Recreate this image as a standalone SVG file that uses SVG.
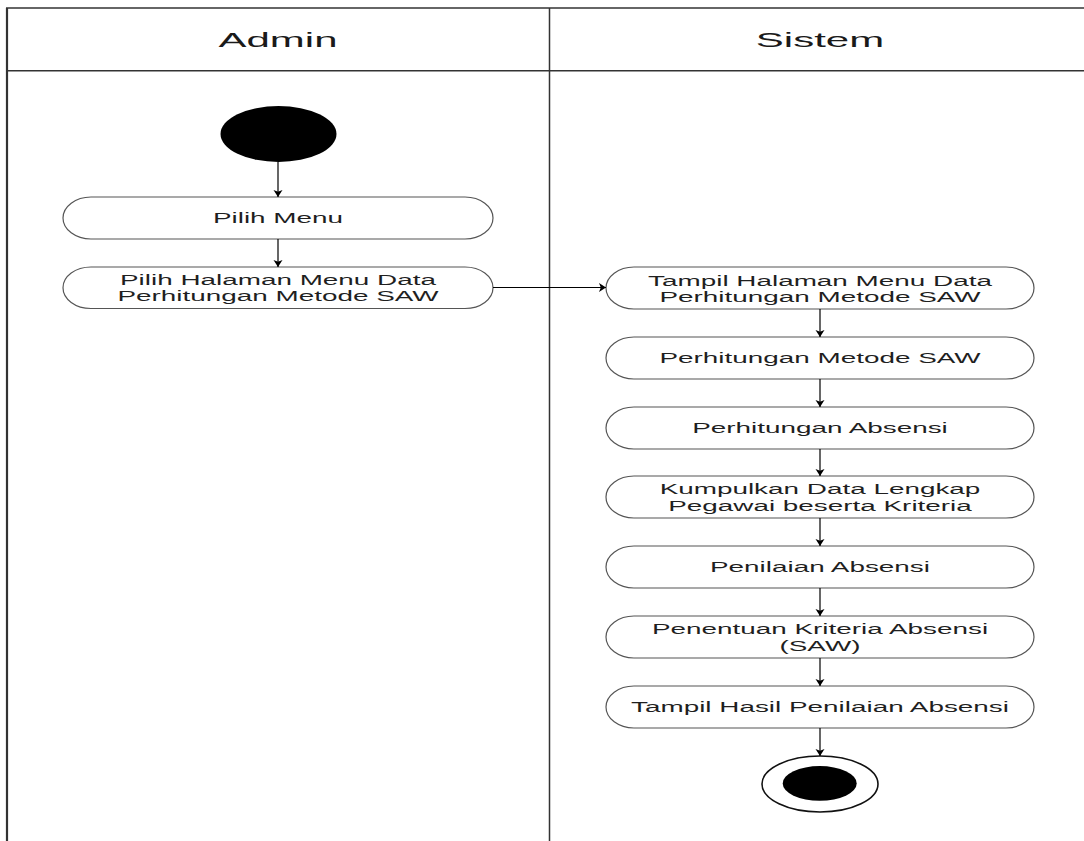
<svg xmlns="http://www.w3.org/2000/svg" width="1084" height="841" viewBox="0 0 1084 841">
  <style>
    .lane { stroke: #333; fill: none; }
    .node { fill: #fff; stroke: #555; stroke-width: 1.2; }
    .t { font-family: "Liberation Sans", Arial, sans-serif; font-size: 15px; fill: #1f1f1f; text-anchor: middle; }
    .h { font-family: "Liberation Sans", Arial, sans-serif; font-size: 21px; fill: #1a1a1a; text-anchor: middle; }
    .edge { stroke: #000; stroke-width: 1.2; fill: none; marker-end: url(#arr); }
  </style>
  <defs>
    <marker id="arr" markerUnits="userSpaceOnUse" markerWidth="10" markerHeight="10" refX="7" refY="4.5" orient="auto">
      <path d="M0,0 L7,4.5 L0,9 L1.8,4.5 z" fill="#000"/>
    </marker>
  </defs>
  <rect width="1084" height="841" fill="#fff"/>

  <g id="lanes">
    <line class="lane" x1="6" y1="8" x2="1084" y2="8" stroke-width="1.5"/>
    <line class="lane" x1="7" y1="8" x2="7" y2="841" stroke-width="2.2" stroke="#111"/>
    <line class="lane" x1="549.5" y1="8" x2="549.5" y2="841" stroke-width="1.5" stroke="#444"/>
    <line class="lane" x1="7" y1="70.7" x2="1084" y2="70.7" stroke-width="1.6" stroke="#999"/>
    <g transform="scale(2 1)">
      <text class="h" x="139" y="47">Admin</text>
      <text class="h" x="410" y="47">Sistem</text>
    </g>
  </g>

  <g id="start">
    <ellipse cx="278.5" cy="134" rx="58" ry="28" fill="#000"/>
  </g>

  <g id="pilih-menu">
    <rect class="node" x="63" y="197" width="430" height="42" rx="28" ry="21"/>
    <g transform="scale(1.86 1)"><text class="t" x="149.46" y="223">Pilih Menu</text></g>
  </g>

  <g id="pilih-halaman">
    <rect class="node" x="63" y="267" width="430" height="41.5" rx="28" ry="20.75"/>
    <g transform="scale(1.86 1)">
      <text class="t" x="149.46" y="285">Pilih Halaman Menu Data</text>
      <text class="t" x="149.46" y="301.5">Perhitungan Metode SAW</text>
    </g>
  </g>

  <g id="tampil-halaman">
    <rect class="node" x="606" y="267" width="428" height="42" rx="28" ry="21"/>
    <g transform="scale(1.86 1)">
      <text class="t" x="440.86" y="285.7">Tampil Halaman Menu Data</text>
      <text class="t" x="440.86" y="302.3">Perhitungan Metode SAW</text>
    </g>
  </g>

  <g id="perhitungan-saw">
    <rect class="node" x="606" y="337" width="428" height="42" rx="28" ry="21"/>
    <g transform="scale(1.86 1)"><text class="t" x="440.86" y="363">Perhitungan Metode SAW</text></g>
  </g>

  <g id="perhitungan-absensi">
    <rect class="node" x="606" y="407" width="428" height="42" rx="28" ry="21"/>
    <g transform="scale(1.86 1)"><text class="t" x="440.86" y="433">Perhitungan Absensi</text></g>
  </g>

  <g id="kumpulkan">
    <rect class="node" x="606" y="476" width="428" height="42" rx="28" ry="21"/>
    <g transform="scale(1.86 1)">
      <text class="t" x="440.86" y="494.5">Kumpulkan Data Lengkap</text>
      <text class="t" x="440.86" y="511">Pegawai beserta Kriteria</text>
    </g>
  </g>

  <g id="penilaian">
    <rect class="node" x="606" y="546" width="428" height="42" rx="28" ry="21"/>
    <g transform="scale(1.86 1)"><text class="t" x="440.86" y="572">Penilaian Absensi</text></g>
  </g>

  <g id="penentuan">
    <rect class="node" x="606" y="616" width="428" height="42" rx="28" ry="21"/>
    <g transform="scale(1.86 1)">
      <text class="t" x="440.86" y="634.5">Penentuan Kriteria Absensi</text>
      <text class="t" x="440.86" y="651">(SAW)</text>
    </g>
  </g>

  <g id="tampil-hasil">
    <rect class="node" x="606" y="686" width="428" height="42" rx="28" ry="21"/>
    <g transform="scale(1.86 1)"><text class="t" x="440.86" y="712.3">Tampil Hasil Penilaian Absensi</text></g>
  </g>

  <g id="end">
    <ellipse cx="820" cy="784" rx="58" ry="28" fill="#fff" stroke="#111" stroke-width="1.6"/>
    <ellipse cx="819.7" cy="783.4" rx="37" ry="17.3" fill="#000"/>
  </g>

  <g id="connectors">
    <line class="edge" x1="278" y1="162" x2="278" y2="197"/>
    <line class="edge" x1="278" y1="239" x2="278" y2="267"/>
    <line class="edge" x1="493" y1="287.5" x2="606" y2="287.5"/>
    <line class="edge" x1="820" y1="309" x2="820" y2="337"/>
    <line class="edge" x1="820" y1="379" x2="820" y2="407"/>
    <line class="edge" x1="820" y1="449" x2="820" y2="476"/>
    <line class="edge" x1="820" y1="518" x2="820" y2="546"/>
    <line class="edge" x1="820" y1="588" x2="820" y2="616"/>
    <line class="edge" x1="820" y1="658" x2="820" y2="686"/>
    <line class="edge" x1="820" y1="728" x2="820" y2="756"/>
  </g>
</svg>
